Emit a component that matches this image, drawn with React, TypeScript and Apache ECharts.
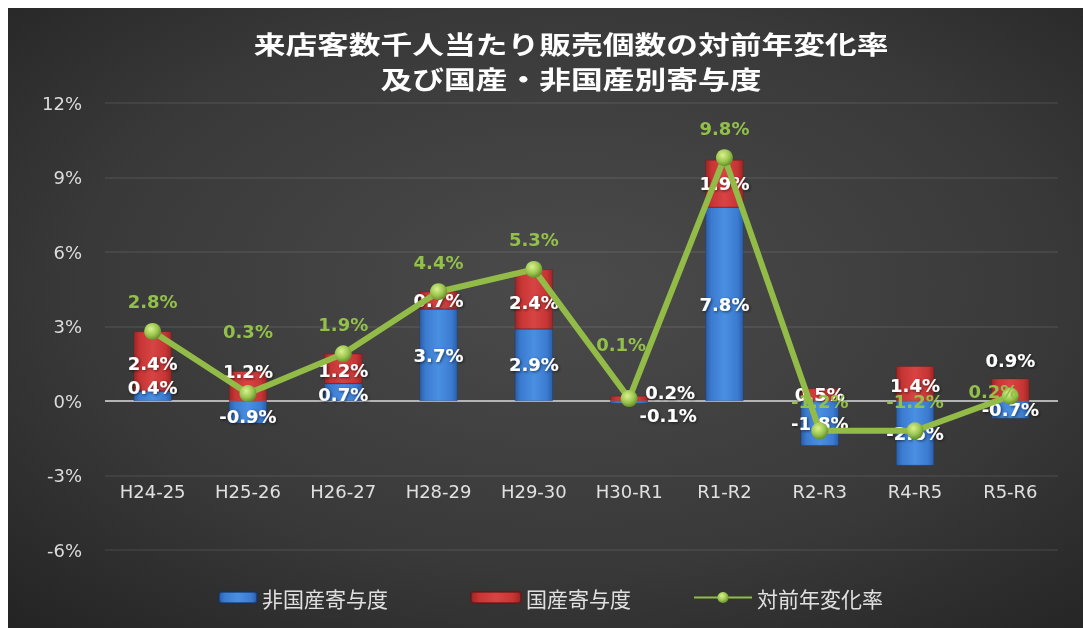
import React, { useEffect, useRef } from "react";
import * as echarts from "echarts";

// ---- data ----
const categories = ["H24-25", "H25-26", "H26-27", "H28-29", "H29-30", "H30-R1", "R1-R2", "R2-R3", "R4-R5", "R5-R6"];
const nonDomestic = [0.4, -0.9, 0.7, 3.7, 2.9, -0.1, 7.8, -1.8, -2.6, -0.7];
const domestic = [2.4, 1.2, 1.2, 0.7, 2.4, 0.2, 1.9, 0.5, 1.4, 0.9];
const yoyRate = [2.8, 0.3, 1.9, 4.4, 5.3, 0.1, 9.8, -1.2, -1.2, 0.2];
const yMin = -6;
const yMax = 12;
const yInterval = 3;
const seriesNames = ["非国産寄与度", "国産寄与度", "対前年変化率"];
const titleLines = ["来店客数千人当たり販売個数の対前年変化率", "及び国産・非国産別寄与度"];

// ---- label nudges (style only) ----
const blueLabelOffset = [[0, -9], [0, 4], [0, 2], [0, 0], [0, 0], [39, 13], [0, 0], [0, 0], [0, 0], [0, 0]];
const redLabelOffset = [[0, 2], [0, -15], [0, 2], [0, 0], [0, 3], [41, -6], [0, 0], [0, 0], [0, 2], [0, -29]];
const lineLabelOffset = [[0, 0], [0, -33], [0, 0], [0, 0], [0, 0], [-8, -25], [0, 0], [0, 0], [0, 0], [-17, 25]];

const numFont = "DejaVu Sans";
const cjkFont = "Noto Sans CJK JP";
const fmt = (v: number) => v.toFixed(1) + "%";

export default function App() {
  const ref = useRef<HTMLDivElement>(null);
  useEffect(() => {
    if (!ref.current) return;
    const chart = echarts.init(ref.current, null, { renderer: "svg" });

    const blueGrad = new echarts.graphic.LinearGradient(0, 0, 1, 0, [
      { offset: 0, color: "#2a5ea8" },
      { offset: 0.15, color: "#3b7bd0" },
      { offset: 0.5, color: "#4a8fe2" },
      { offset: 0.85, color: "#3b7bd0" },
      { offset: 1, color: "#2a5ea8" },
    ]);
    const redGrad = new echarts.graphic.LinearGradient(0, 0, 1, 0, [
      { offset: 0, color: "#9c2626" },
      { offset: 0.15, color: "#c63434" },
      { offset: 0.5, color: "#d84444" },
      { offset: 0.85, color: "#c63434" },
      { offset: 1, color: "#9c2626" },
    ]);

    const barLabel = {
      show: true,
      position: "inside",
      color: "#ffffff",
      fontFamily: numFont,
      fontWeight: "bold",
      fontSize: 18,
      textShadowColor: "rgba(0,0,0,0.6)",
      textShadowBlur: 3,
      textShadowOffsetX: 1,
      textShadowOffsetY: 1,
      formatter: (p: any) => fmt(p.value),
    };

    const titleStyle = (text: string) => ({
      text,
      fill: "#ffffff",
      font: `bold 25px "${cjkFont}"`,
      textAlign: "center",
      textVerticalAlign: "middle",
      shadowColor: "rgba(0,0,0,0.8)",
      shadowBlur: 3,
      shadowOffsetX: 2,
      shadowOffsetY: 2,
    });

    const option: any = {
      animation: false,
      backgroundColor: {
        type: "radial",
        x: 0.52,
        y: 0.45,
        r: 0.75,
        colorStops: [
          { offset: 0, color: "#4b4b4b" },
          { offset: 0.6, color: "#393939" },
          { offset: 1, color: "#242424" },
        ],
      },
      graphic: [
        { type: "text", x: 563, y: 35, scaleX: 1.27, style: titleStyle(titleLines[0]) },
        { type: "text", x: 563, y: 70, scaleX: 1.27, style: titleStyle(titleLines[1]) },
      ],
      legend: [
        {
          data: [seriesNames[0]],
          left: 205,
          top: 574,
          itemWidth: 38,
          itemHeight: 11,
          textStyle: { color: "#e0e0e0", fontFamily: cjkFont, fontSize: 21 },
        },
        {
          data: [seriesNames[1]],
          left: 457,
          top: 574,
          itemWidth: 50,
          itemHeight: 11,
          textStyle: { color: "#e0e0e0", fontFamily: cjkFont, fontSize: 21 },
        },
        {
          data: [seriesNames[2]],
          left: 680,
          top: 574,
          itemWidth: 58,
          itemHeight: 14,
          textStyle: { color: "#e0e0e0", fontFamily: cjkFont, fontSize: 21 },
        },
      ],
      grid: { left: 97, top: 95, right: 25, bottom: 78, outerBoundsMode: "none", containLabel: false },
      xAxis: {
        type: "category",
        data: categories,
        position: "bottom",
        axisLine: { show: false, onZero: false },
        axisTick: { show: false },
        axisLabel: { color: "#e0e0e0", fontFamily: numFont, fontSize: 18, margin: -68 },
      },
      yAxis: {
        type: "value",
        min: yMin,
        max: yMax,
        interval: yInterval,
        axisLine: { show: false },
        axisTick: { show: false },
        splitLine: { show: true, lineStyle: { color: "rgba(255,255,255,0.09)", width: 1.5 } },
        axisLabel: {
          color: "#dcdcdc",
          fontFamily: numFont,
          fontSize: 18,
          margin: 23,
          formatter: (v: number) => v + "%",
        },
      },
      series: [
        {
          name: seriesNames[0],
          type: "bar",
          stack: "total",
          barWidth: 38,
          itemStyle: { color: blueGrad, borderColor: "rgba(20,50,100,0.6)", borderWidth: 0.5 },
          label: barLabel,
          data: nonDomestic.map((v, i) => ({ value: v, label: { offset: blueLabelOffset[i] } })),
          z: 3,
          markLine: {
            silent: true,
            symbol: "none",
            label: { show: false },
            lineStyle: { color: "#b4b4b4", width: 2, type: "solid" },
            data: [{ yAxis: 0 }],
            z: 2,
          },
        },
        {
          name: seriesNames[1],
          type: "bar",
          stack: "total",
          barWidth: 38,
          itemStyle: { color: redGrad, borderColor: "rgba(100,20,20,0.6)", borderWidth: 0.5 },
          label: barLabel,
          data: domestic.map((v, i) => ({ value: v, label: { offset: redLabelOffset[i] } })),
          z: 3,
        },
        {
          name: seriesNames[2],
          type: "line",
          symbol: "circle",
          symbolSize: 17,
          z: 5,
          lineStyle: { color: "#92bb48", width: 6 },
          itemStyle: {
            color: {
              type: "radial",
              x: 0.4,
              y: 0.35,
              r: 0.65,
              colorStops: [
                { offset: 0, color: "#d9f28e" },
                { offset: 0.6, color: "#9cc550" },
                { offset: 1, color: "#66902a" },
              ],
            },
          },
          label: {
            show: true,
            position: "top",
            distance: 12,
            color: "#92c04a",
            fontFamily: numFont,
            fontWeight: "bold",
            fontSize: 18,
            formatter: (p: any) => fmt(p.value),
          },
          data: yoyRate.map((v, i) => ({ value: v, label: { offset: lineLabelOffset[i] } })),
        },
      ],
    };
    chart.setOption(option);
    return () => chart.dispose();
  }, []);

  return (
    <div
      ref={ref}
      style={{ position: "fixed", left: 8, top: 8, width: 1075, height: 620 }}
    />
  );
}
